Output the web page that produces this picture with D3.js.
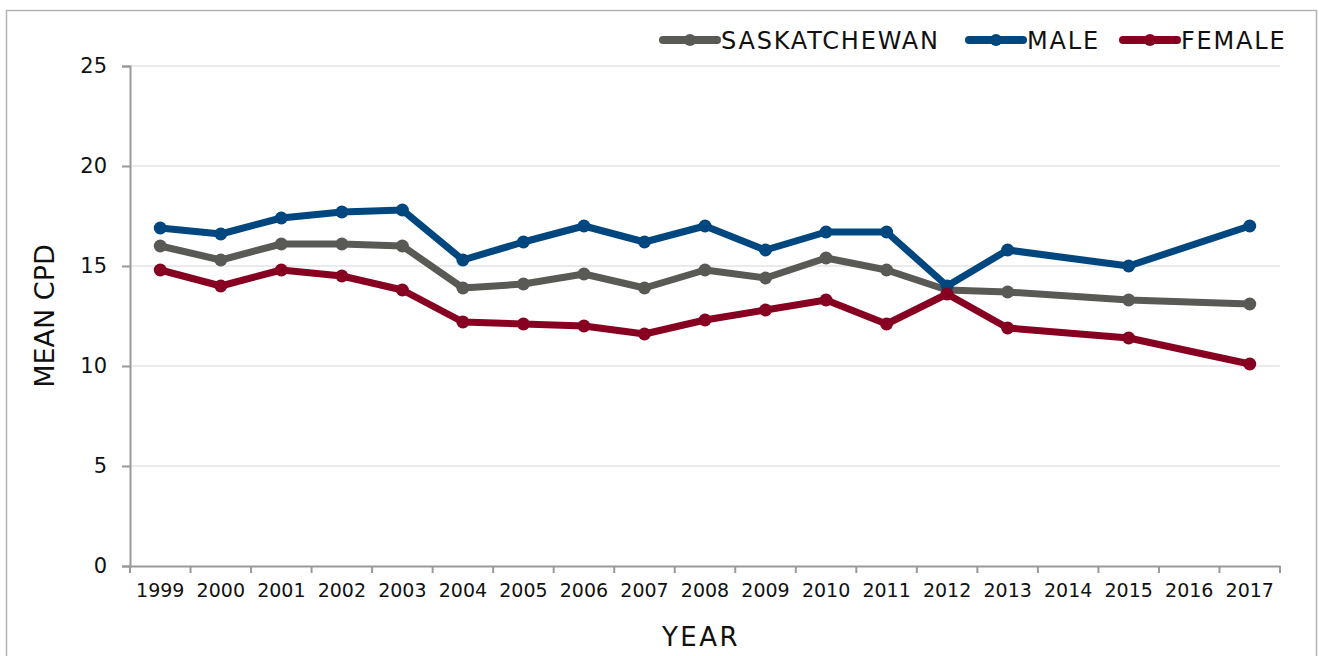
<!DOCTYPE html>
<html><head><meta charset="utf-8">
<script src="https://cdn.jsdelivr.net/npm/d3@7"></script>
<style>body{margin:0;background:#fff;} svg{display:block;} text{font-family:"DejaVu Sans",sans-serif;fill:#111;}</style>
</head><body>
<svg id="c" width="1319" height="656"></svg>
<script>
const years = ["1999","2000","2001","2002","2003","2004","2005","2006","2007","2008","2009","2010","2011","2012","2013","2014","2015","2016","2017"];
const saskatchewan = [16.0,15.3,16.1,16.1,16.0,13.9,14.1,14.6,13.9,14.8,14.4,15.4,14.8,13.8,13.7,null,13.3,null,13.1];
const male = [16.9,16.6,17.4,17.7,17.8,15.3,16.2,17.0,16.2,17.0,15.8,16.7,16.7,14.0,15.8,null,15.0,null,17.0];
const female = [14.8,14.0,14.8,14.5,13.8,12.2,12.1,12.0,11.6,12.3,12.8,13.3,12.1,13.6,11.9,null,11.4,null,10.1];
const yTicks = [0,5,10,15,20,25];
const seriesNames = ["SASKATCHEWAN","MALE","FEMALE"];
const seriesColors = ["#595a55","#00467f","#870021"];

const svg = d3.select("#c");
svg.append("rect").attr("x",6.5).attr("y",10.5).attr("width",1310).attr("height",700)
  .attr("fill","none").attr("stroke","#b3b3b3").attr("stroke-width",1.5);

const x = d3.scaleBand().domain(years).range([130,1280]);
const y = d3.scaleLinear().domain([0,25]).range([566,66]);

// gridlines
svg.append("g").selectAll("line").data(yTicks.filter(d=>d>0)).join("line")
  .attr("x1",130).attr("x2",1280).attr("y1",d=>y(d)).attr("y2",d=>y(d))
  .attr("stroke","#e3e3e3").attr("stroke-width",1.5);

// y axis
const yAxis = svg.append("g").attr("transform","translate(130,0)")
  .call(d3.axisLeft(y).tickValues(yTicks).tickSize(8).tickPadding(15));
yAxis.select(".domain").attr("stroke","#999").attr("stroke-width",2);
yAxis.selectAll(".tick line").attr("stroke","#999").attr("stroke-width",2);
yAxis.selectAll("text").style("font-size","21px").attr("fill","#111").attr("font-family","DejaVu Sans");

// x axis
const xAxis = svg.append("g").attr("transform","translate(0,566)")
  .call(d3.axisBottom(x).tickSize(0).tickPadding(18));
xAxis.select(".domain").attr("stroke","#999").attr("stroke-width",2);
xAxis.selectAll("text").style("font-size","19px").attr("fill","#111").attr("font-family","DejaVu Sans");
const bounds = years.map(d=>x(d)).concat([x.range()[1]]);
svg.append("g").selectAll("line").data(bounds).join("line")
  .attr("x1",d=>d).attr("x2",d=>d).attr("y1",566).attr("y2",573)
  .attr("stroke","#999").attr("stroke-width",2);

// axis titles
svg.append("text").attr("x",701).attr("y",646).attr("text-anchor","middle")
  .style("font-size","26px").style("letter-spacing","2.5px").text("YEAR");
svg.append("text").attr("transform","translate(54,316) rotate(-90)").attr("text-anchor","middle")
  .style("font-size","27px").text("MEAN CPD");

// series
const all = [saskatchewan, male, female];
const line = d3.line().x(d=>x(d.year)+x.bandwidth()/2).y(d=>y(d.v));
all.forEach((vals,i)=>{
  const pts = years.map((yr,j)=>({year:yr,v:vals[j]})).filter(d=>d.v!==null);
  const g = svg.append("g");
  g.append("path").datum(pts).attr("d",line).attr("fill","none")
    .attr("stroke",seriesColors[i]).attr("stroke-width",7).attr("stroke-linejoin","round").attr("stroke-linecap","round");
  g.selectAll("circle").data(pts).join("circle")
    .attr("cx",d=>x(d.year)+x.bandwidth()/2).attr("cy",d=>y(d.v)).attr("r",6.5).attr("fill",seriesColors[i]);
});

// legend
const legX = [659, 965, 1119];
const leg = svg.append("g");
seriesNames.forEach((n,i)=>{
  const lx = legX[i];
  leg.append("line").attr("x1",lx+4).attr("x2",lx+58).attr("y1",40).attr("y2",40)
    .attr("stroke",seriesColors[i]).attr("stroke-width",8).attr("stroke-linecap","round");
  leg.append("circle").attr("cx",lx+31).attr("cy",40).attr("r",6).attr("fill",seriesColors[i]);
  leg.append("text").attr("x",lx+62).attr("y",48.5).style("font-size","24px").style("letter-spacing","1.8px").text(n);
});
</script>
</body></html>
